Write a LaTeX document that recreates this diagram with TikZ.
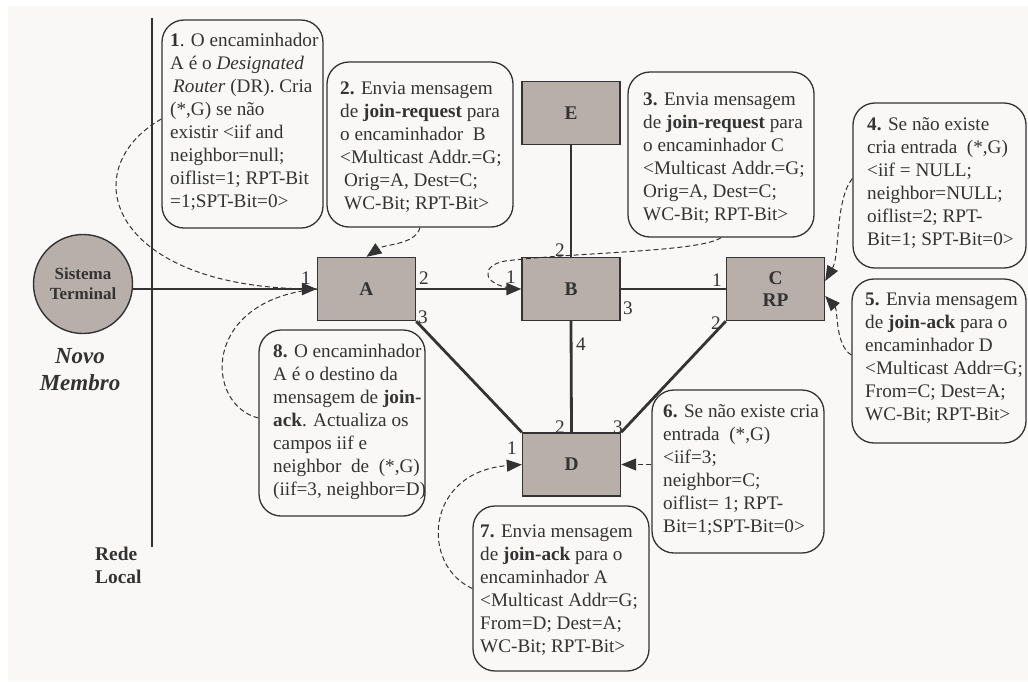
\documentclass[tikz,border=0pt]{standalone}
\usepackage{fontspec}
\setmainfont{Liberation Serif}
\usetikzlibrary{arrows.meta}

\definecolor{bg}{RGB}{249,248,247}
\definecolor{ink}{RGB}{51,51,51}
\definecolor{routerfill}{RGB}{185,175,170}

\tikzset{
  router/.style={draw=ink, line width=1.4pt, fill=routerfill, minimum width=98pt,
    minimum height=63pt, inner sep=0pt, text=ink, align=center,
    font=\fontsize{19.4}{22}\selectfont\bfseries},
  callout/.style={draw=ink, line width=1.3pt, rounded corners=22pt, fill=bg, inner sep=0pt},
  note/.style={anchor=west, inner sep=0pt, align=left, text=ink,
    font=\fontsize{19.2}{23}\selectfont},
  port/.style={inner sep=0pt, text=ink, font=\fontsize{19.2}{22}\selectfont},
  link/.style={draw=ink, line width=2.8pt},
  headend/.style={-{Triangle[length=15pt,width=12pt]}},
  hint/.style={draw=ink, line width=1pt, dash pattern=on 5pt off 3pt},
}

\begin{document}
\begin{tikzpicture}[x=1pt,y=-1pt]
\useasboundingbox (0,0) rectangle (1028,681);
\fill[white] (0,0) rectangle (1028,681);
\fill[bg] (8,6) rectangle (1028,681);

% local network segment
\coordinate (lanTop) at (152,18);
\coordinate (lanBot) at (152,547);
\draw[ink, line width=1.2pt] (lanTop) -- (lanBot);
\node[inner sep=0pt, anchor=west, align=left, text=ink,
      font=\fontsize{19.4}{23}\selectfont\bfseries] (lanlabel) at (95,565) {Rede\\Local};

% end system
\node[circle, draw=ink, line width=1.4pt, fill=routerfill, minimum size=99pt, inner sep=0pt,
      align=center, text=ink, font=\fontsize{17}{20}\selectfont\bfseries] (st) at (83,284) {Sistema\\Terminal};
\node[inner sep=0pt, align=center, text=ink,
      font=\fontsize{23}{27}\selectfont\bfseries\itshape] (novo) at (80,370) {Novo\\Membro};

% routers
\node[router] (A) at (366.5,289) {A};
\node[router] (B) at (571,289) {B};
\node[router] (C) at (775.5,289) {C\\RP};
\node[router] (E) at (571,113) {E};
\node[router] (D) at (571.5,464.5) {D};

% callouts
\node[callout, minimum width=161pt, minimum height=208pt] (n1) at (242.5,124) {};
\node[callout, minimum width=186pt, minimum height=165pt] (n2) at (420,144.5) {};
\node[callout, minimum width=186pt, minimum height=165pt] (n3) at (721,154.5) {};
\node[callout, minimum width=173pt, minimum height=165pt] (n4) at (939.5,185.5) {};
\node[callout, minimum width=174pt, minimum height=164pt] (n5) at (939,361) {};
\node[callout, minimum width=172pt, minimum height=163pt] (n6) at (738,471.5) {};
\node[callout, minimum width=176pt, minimum height=165pt] (n7) at (561,588.5) {};
\node[callout, minimum width=166pt, minimum height=186pt] (n8) at (342,423) {};

\node[note] (t1) at (170,122) {\textbf{1}. O encaminhador\\
A é o \textit{Designated}\\
\hspace*{3pt}\textit{Router} (DR). Cria\\
(*,G) se não\\
existir <iif and\\
neighbor=null;\\
oiflist=1; RPT-Bit\\
=1;SPT-Bit=0>};

\node[note] (t2) at (340,147) {\textbf{2.} Envia mensagem\\
de \textbf{join-request} para\\
o encaminhador\ \ B\\
<Multicast Addr.=G;\\
\hspace*{4pt}Orig=A, Dest=C;\\
\hspace*{4pt}WC-Bit; RPT-Bit>};

\node[note] (t3) at (643,158) {\textbf{3.} Envia mensagem\\
de \textbf{join-request} para\\
o encaminhador C\\
<Multicast Addr.=G;\\
Orig=A, Dest=C;\\
WC-Bit; RPT-Bit>};

\node[note] (t4) at (867,183) {\textbf{4.} Se não existe\\
cria entrada\ \ (*,G)\\
<iif = NULL;\\
neighbor=NULL;\\
oiflist=2; RPT-\\
Bit=1; SPT-Bit=0>};

\node[note] (t5) at (865,358) {\textbf{5.} Envia mensagem\\
de \textbf{join-ack} para o\\
encaminhador D\\
<Multicast Addr=G;\\
From=C; Dest=A;\\
WC-Bit; RPT-Bit>};

\node[note] (t6) at (663,470) {\textbf{6.} Se não existe cria\\
entrada\ \ (*,G)\\
<iif=3;\\
neighbor=C;\\
oiflist= 1; RPT-\\
Bit=1;SPT-Bit=0>};

\node[note] (t7) at (480,590) {\textbf{7.} Envia mensagem\\
de \textbf{join-ack} para o\\
encaminhador A\\
<Multicast Addr=G;\\
From=D; Dest=A;\\
WC-Bit; RPT-Bit>};

\node[note] (t8) at (273,422) {\textbf{8.} O encaminhador\\
A é o destino da\\
mensagem de \textbf{join-}\\
\textbf{ack}. Actualiza os\\
campos iif e\\
neighbor\ \ de\ \ (*,G)\\
(iif=3, neighbor=D)};

% dashed references from the steps to the routers
\draw[hint] ([yshift=5pt]n1.west) .. controls (72,170) and (110,290) .. (A.west);
\draw[hint, headend] (n2.south) .. controls (415,245) and (385,244) .. (A.north);
\draw[hint] (n3.south) .. controls (700,252) and (580,252) .. (505,261)
            .. controls (478,266) and (482,288) .. (B.west);
\draw[hint, headend] ([yshift=7pt]n4.west) .. controls (835,200) and (840,255) .. ([yshift=8pt]C.east);
\draw[hint, headend] ([yshift=6pt]n5.west) .. controls (835,345) and (838,310) .. ([yshift=-7pt]C.east);
\draw[hint, headend] (n6.west |- D.east) -- (D.east);
\draw[hint, headend] (n7.west) .. controls (420,565) and (425,472) .. (D.west);
\draw[hint] ([yshift=5pt]n8.west) .. controls (205,405) and (200,300) .. (A.west);

% links
\draw[ink, line width=1.2pt] (st.east |- A.west) -- (lanTop |- A.west);
\draw[link, headend] (lanTop |- A.west) -- (A.west);
\draw[link, headend] (A.east) -- (B.west);
\draw[link] (B.east) -- (C.west);
\draw[link] (E.south) -- (B.north);
\draw[link] (B.south) -- (D.north);
\draw[link] (A.south east) -- (D.north west);
\draw[link] (C.south west) -- (D.north east);

% interface numbers
\node[port] (pA1) at (306,278) {1};
\node[port] (pA2) at (424,278) {2};
\node[port] (pA3) at (423,317) {3};
\node[port] (pB1) at (511,277) {1};
\node[port] (pB2) at (560,250) {2};
\node[port] (pB3) at (628,308) {3};
\node[port] (pB4) at (581,344) {4};
\node[port] (pC1) at (717,280) {1};
\node[port] (pC2) at (716,323) {2};
\node[port] (pD1) at (512,448) {1};
\node[port] (pD2) at (560,427) {2};
\node[port] (pD3) at (618,427) {3};
\end{tikzpicture}
\end{document}
